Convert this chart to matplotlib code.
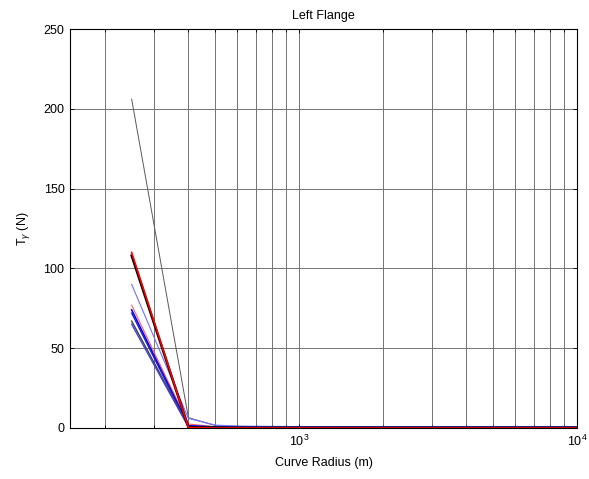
import matplotlib
matplotlib.use('Agg')
import matplotlib.pyplot as plt
import matplotlib.ticker as mticker

plt.rcParams['font.family'] = ['Liberation Sans', 'DejaVu Sans']
plt.rcParams['mathtext.fontset'] = 'custom'
plt.rcParams['mathtext.rm'] = 'Liberation Sans'
plt.rcParams['mathtext.it'] = 'Liberation Sans:italic'

# curve radius (m)
radius = [250, 400, 500, 600, 800, 1000, 2000, 5000, 10000]

# lateral force on left flange for each run (N)
t_gray = [206, 6.5, 1.5, 1.0, 0.8, 0.6, 0.5, 0.5, 0.5]
t_blue_a = [90, 6.0, 1.8, 1.2, 1.0, 0.9, 0.8, 0.8, 0.8]
t_red_thin = [77, 2.5, 0.8, 0.5, 0.4, 0.4, 0.3, 0.3, 0.3]
t_blue_b = [74, 1.5, 0.6, 0.5, 0.4, 0.4, 0.4, 0.4, 0.4]
t_blue_c = [72, 1.0, 0.5, 0.4, 0.4, 0.4, 0.4, 0.4, 0.4]
t_black_thin = [67, 1.0, 0.4, 0.3, 0.3, 0.3, 0.3, 0.3, 0.3]
t_blue_d = [65, 0.6, 0.4, 0.3, 0.3, 0.3, 0.3, 0.3, 0.3]
t_black = [108, 0.5, 0.2, 0.1, 0.1, 0.1, 0.1, 0.1, 0.1]
t_red = [110, 0.3, 0.0, 0.0, 0.0, 0.0, 0.0, 0.0, 0.0]

fig = plt.figure(figsize=(5.89, 4.79), dpi=100)
ax = fig.add_axes([70 / 589, 1 - 428 / 479, (577 - 70) / 589, (428 - 29) / 479])

ax.plot(radius, t_gray, color='0.35', lw=0.7)
ax.plot(radius, t_blue_a, color='#7070ff', lw=0.8)
ax.plot(radius, t_red_thin, color='#ff6060', lw=0.8)
ax.plot(radius, t_blue_b, color='#0000ff', lw=1.2)
ax.plot(radius, t_blue_c, color='#2020c0', lw=1.0)
ax.plot(radius, t_black_thin, color='0.25', lw=1.0)
ax.plot(radius, t_blue_d, color='#4040e0', lw=1.0)
ax.plot(radius, t_black, color='black', lw=1.8)
ax.plot(radius, t_red, color='red', lw=1.2)

ax.set_xscale('log')
ax.set_xlim(150, 10000)
ax.set_ylim(0, 250)
ax.yaxis.set_major_locator(mticker.MultipleLocator(50))
ax.xaxis.set_major_locator(mticker.LogLocator(base=10, numticks=10))
ax.xaxis.set_minor_locator(mticker.LogLocator(base=10, subs=range(2, 10), numticks=20))
ax.xaxis.set_minor_formatter(mticker.NullFormatter())

ax.grid(True, which='both', axis='x', color='0.45', lw=0.7)
ax.grid(True, which='major', axis='y', color='0.45', lw=0.7)
ax.set_axisbelow(True)

ax.tick_params(which='both', direction='in', top=True, right=True, labelsize=9, width=0.6)
ax.tick_params(which='major', length=3, pad=4)
ax.tick_params(which='minor', length=2)
for s in ax.spines.values():
    s.set_linewidth(0.8)

ax.set_title('Left Flange', fontsize=9, pad=7)
ax.set_xlabel('Curve Radius (m)', fontsize=9, labelpad=6)
ax.set_ylabel(r'T$_\gamma$ (N)', fontsize=9, labelpad=8)

fig.savefig('out.png', dpi=100)
